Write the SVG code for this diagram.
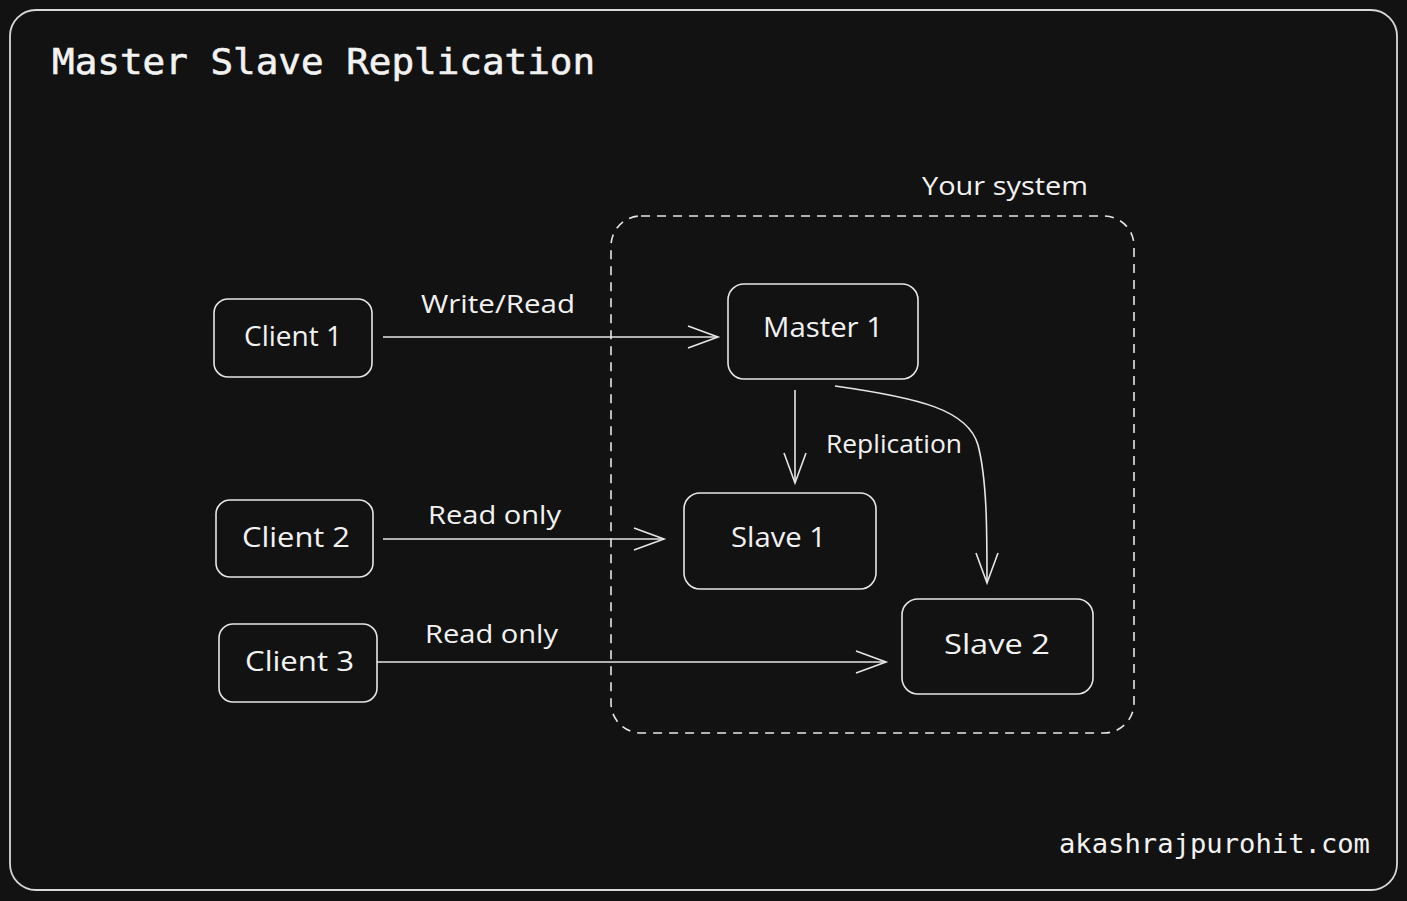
<svg xmlns="http://www.w3.org/2000/svg" width="1407" height="901" viewBox="0 0 1407 901">
<defs>
<style>
.node{fill:#121212;stroke:#e6e6e6;stroke-width:1.6}
.lbl{font-family:"Open Sans","Liberation Sans",sans-serif;fill:#f2f2f2;font-size:25px}
.nl{font-family:"Open Sans","Liberation Sans",sans-serif;fill:#f2f2f2;font-size:27px}
.conn{fill:none;stroke:#e6e6e6;stroke-width:1.6}
.mono{font-family:"DejaVu Sans Mono","Liberation Mono",monospace;fill:#f2f2f2}
</style>
<marker id="ah" markerUnits="userSpaceOnUse" markerWidth="40" markerHeight="30" viewBox="-32 -15 34 30" refX="0" refY="0" orient="auto">
<path d="M-30,-11 L0,0 L-30,11" fill="none" stroke="#e6e6e6" stroke-width="1.6"/>
</marker>
</defs>
<rect width="1407" height="901" fill="#121212"/>
<rect x="10" y="10" width="1387" height="880" rx="26" fill="none" stroke="#d8d8d8" stroke-width="1.8"/>
<text class="mono" x="52" y="74" font-size="36" textLength="543" lengthAdjust="spacingAndGlyphs" stroke="#f2f2f2" stroke-width="0.6">Master Slave Replication</text>
<text class="mono" x="1059" y="853" font-size="26" textLength="311" lengthAdjust="spacingAndGlyphs">akashrajpurohit.com</text>

<g id="system">
<rect x="611" y="216" width="523" height="517" rx="30" fill="none" stroke="#e6e6e6" stroke-width="1.6" stroke-dasharray="9 7"/>
<text class="lbl" x="922" y="195" textLength="166" lengthAdjust="spacingAndGlyphs">Your system</text>
</g>

<g id="connectors">
<line class="conn" x1="383" y1="337" x2="718" y2="337" marker-end="url(#ah)"/>
<line class="conn" x1="383" y1="539" x2="664" y2="539" marker-end="url(#ah)"/>
<line class="conn" x1="372" y1="662" x2="886" y2="662" marker-end="url(#ah)"/>
<line class="conn" x1="795" y1="390" x2="795" y2="483" marker-end="url(#ah)"/>
<path class="conn" d="M835,386 C920,398 968,410 978,445 C987,480 987,530 987,583" marker-end="url(#ah)"/>
<text class="lbl" x="421" y="313" textLength="154" lengthAdjust="spacingAndGlyphs">Write/Read</text>
<text class="lbl" x="428" y="524" textLength="133" lengthAdjust="spacingAndGlyphs">Read only</text>
<text class="lbl" x="425" y="643" textLength="133" lengthAdjust="spacingAndGlyphs">Read only</text>
<text class="lbl" x="826" y="453" textLength="136" lengthAdjust="spacingAndGlyphs">Replication</text>
</g>

<g id="client1">
<rect class="node" x="214" y="299" width="158" height="78" rx="14"/>
<text class="nl" x="244" y="346" textLength="98" lengthAdjust="spacingAndGlyphs">Client 1</text>
</g>
<g id="client2">
<rect class="node" x="216" y="500" width="157" height="77" rx="14"/>
<text class="nl" x="242" y="547" textLength="108" lengthAdjust="spacingAndGlyphs">Client 2</text>
</g>
<g id="client3">
<rect class="node" x="219" y="624" width="158" height="78" rx="14"/>
<text class="nl" x="245" y="671" textLength="109" lengthAdjust="spacingAndGlyphs">Client 3</text>
</g>
<g id="master1">
<rect class="node" x="728" y="284" width="190" height="95" rx="16"/>
<text class="nl" x="763" y="337" textLength="120" lengthAdjust="spacingAndGlyphs">Master 1</text>
</g>
<g id="slave1">
<rect class="node" x="684" y="493" width="192" height="96" rx="16"/>
<text class="nl" x="731" y="547" textLength="95" lengthAdjust="spacingAndGlyphs">Slave 1</text>
</g>
<g id="slave2">
<rect class="node" x="902" y="599" width="191" height="95" rx="16"/>
<text class="nl" x="944" y="654" textLength="106" lengthAdjust="spacingAndGlyphs">Slave 2</text>
</g>
</svg>
